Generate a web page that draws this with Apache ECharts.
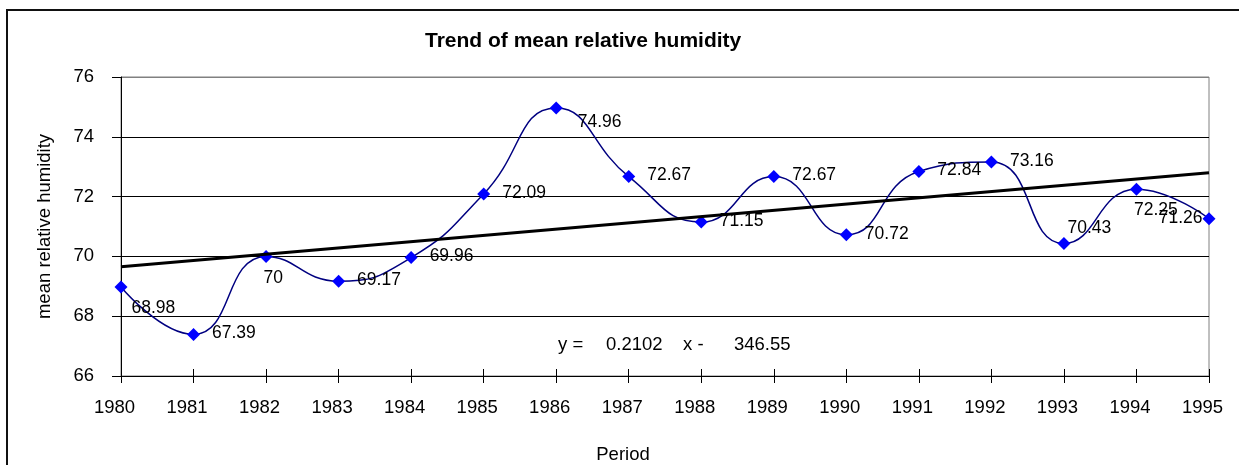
<!DOCTYPE html>
<html>
<head>
<meta charset="utf-8">
<script src="https://cdn.jsdelivr.net/npm/echarts@6/dist/echarts.min.js"></script>
<style>
  html, body { margin: 0; padding: 0; background: #fff; }
  #chart { width: 1239px; height: 465px; }
</style>
</head>
<body>
<div id="chart"></div>
<script>
'use strict';

// data
const years = [1980, 1981, 1982, 1983, 1984, 1985, 1986, 1987, 1988, 1989, 1990, 1991, 1992, 1993, 1994, 1995];
const humidity = [68.98, 67.39, 70, 69.17, 69.96, 72.09, 74.96, 72.67, 71.15, 72.67, 70.72, 72.84, 73.16, 70.43, 72.25, 71.26];
const trendYears = [1980, 1995];
const trendValues = [69.65, 72.80];
const equationParts = ['y =', '0.2102', 'x -', '346.55'];

// label nudges (px) so the labels sit where the original put them
const labelNudge = {
    1980: [-8, 21],
    1982: [-21, 22],
    1986: [3, 14],
    1993: [-15, -15],
    1994: [-21, 21]
};

const FONT = '"Liberation Sans", Arial, sans-serif';
const AXIS_FONT = 18.5;

const chart = echarts.init(document.getElementById('chart'));

const pointData = years.map((yr, i) => {
    const item = { value: [yr, humidity[i]] };
    if (yr === 1995) {
        item.label = { position: 'left', distance: 0, offset: [0, -1] };
    } else if (labelNudge[yr]) {
        item.label = { offset: labelNudge[yr] };
    }
    return item;
});

// equation pieces placed like the original's spaced-out text
const equationLeft = [558, 606, 683, 734];
const equationGraphics = equationParts.map((txt, i) => ({
    type: 'text',
    left: equationLeft[i],
    top: 335,
    style: { text: txt, fontFamily: FONT, fontSize: AXIS_FONT, fill: '#000' },
    z: 10
}));

const option = {
    animation: false,
    backgroundColor: '#fff',
    textStyle: { fontFamily: FONT },
    title: {
        text: 'Trend of mean relative humidity',
        left: 420,
        top: 26,
        textStyle: { fontFamily: FONT, fontSize: 21, fontWeight: 'bold', color: '#000' }
    },
    grid: {
        left: 121,
        right: 30,
        top: 77,
        bottom: 89,
        containLabel: false,
        outerBoundsMode: 'none',
        show: true,
        borderColor: '#808080',
        borderWidth: 1,
        backgroundColor: '#fff'
    },
    xAxis: [{
        type: 'value',
        min: 1980,
        max: 1995,
        interval: 1,
        position: 'bottom',
        name: 'Period',
        nameLocation: 'middle',
        nameGap: 69,
        nameTextStyle: { fontFamily: FONT, fontSize: AXIS_FONT, color: '#000', padding: [0, 84, 0, 0] },
        axisLine: { lineStyle: { color: '#000', width: 1 } },
        axisTick: { length: 7, lineStyle: { color: '#000' } },
        axisLabel: {
            margin: 22,
            padding: [0, 13, 0, 0],
            fontFamily: FONT,
            fontSize: AXIS_FONT,
            color: '#000',
            formatter: v => String(v)
        },
        splitLine: { show: false }
    }, {
        type: 'value',
        min: 1980,
        max: 1995,
        interval: 1,
        position: 'bottom',
        axisLine: { show: false },
        axisTick: { inside: true, length: 7, lineStyle: { color: '#000' } },
        axisLabel: { show: false },
        splitLine: { show: false }
    }],
    yAxis: {
        type: 'value',
        min: 66,
        max: 76,
        interval: 2,
        name: 'mean relative humidity',
        nameLocation: 'middle',
        nameGap: 67,
        nameTextStyle: { fontFamily: FONT, fontSize: AXIS_FONT, color: '#000' },
        axisLine: { show: true, lineStyle: { color: '#000', width: 1 } },
        axisTick: { show: true, length: 9, lineStyle: { color: '#000' } },
        axisLabel: { margin: 27, fontFamily: FONT, fontSize: AXIS_FONT, color: '#000' },
        splitLine: {
            show: true,
            lineStyle: { color: ['#000', '#000', '#000', '#000', '#000', '#808080'], width: 1 }
        }
    },
    series: [{
        name: 'mean relative humidity',
        type: 'line',
        smooth: 0.5,
        symbol: 'diamond',
        symbolSize: 13,
        itemStyle: { color: '#0000ff' },
        lineStyle: { color: '#000080', width: 1.5 },
        label: {
            show: true,
            position: 'right',
            distance: 12,
            offset: [0, -1],
            fontFamily: FONT,
            fontSize: 17.5,
            color: '#000'
        },
        data: pointData,
        z: 3
    }, {
        name: 'trend',
        type: 'line',
        symbol: 'none',
        lineStyle: { color: '#000', width: 3 },
        data: trendYears.map((yr, i) => [yr, trendValues[i]]),
        z: 4
    }],
    graphic: [{
        type: 'rect',
        shape: { x: 7, y: 10, width: 1400, height: 600 },
        style: { fill: null, stroke: '#111', lineWidth: 2 },
        silent: true,
        z: -10
    }].concat(equationGraphics)
};

chart.setOption(option);
</script>
</body>
</html>
